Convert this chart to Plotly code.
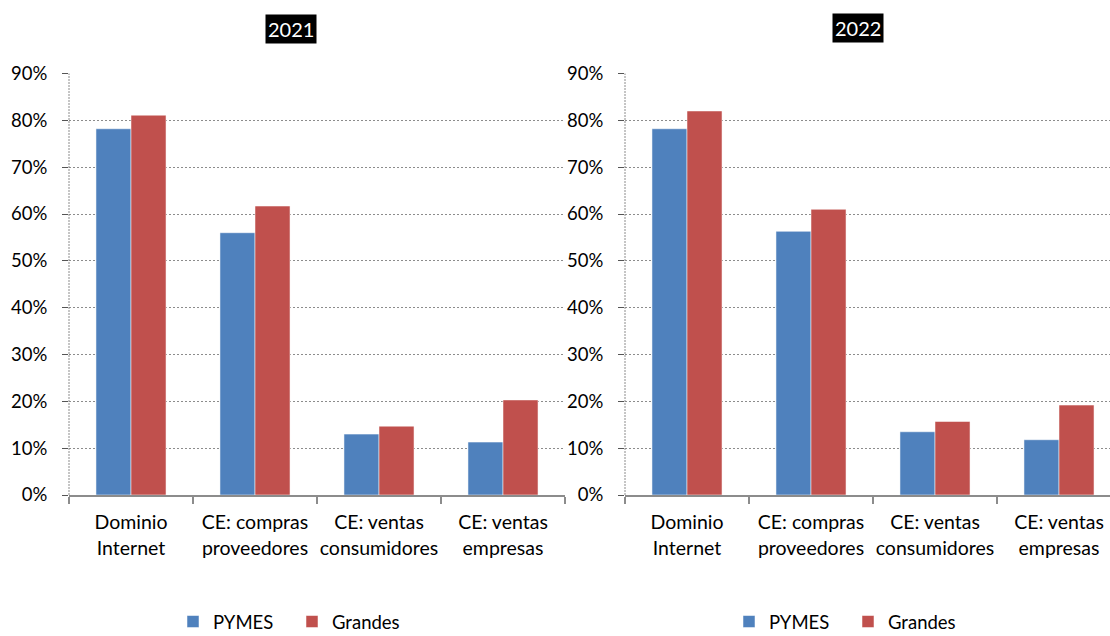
import plotly.graph_objects as go

categories = ["Dominio<br>Internet", "CE: compras<br>proveedores", "CE: ventas<br>consumidores", "CE: ventas<br>empresas"]
years = ["2021", "2022"]
pymes_2021 = [0.782, 0.560, 0.130, 0.113]
grandes_2021 = [0.811, 0.617, 0.147, 0.203]
pymes_2022 = [0.782, 0.563, 0.135, 0.118]
grandes_2022 = [0.820, 0.610, 0.157, 0.192]

BLUE = "#4F81BD"
RED = "#C0504D"
GRID = "#8c8c8c"
FONT = "Lato, Carlito, 'Noto Sans', sans-serif"
W, H = 1110, 636


def px_x(sx):
    return sx / W


def px_y(sy):
    return (H - sy) / H


fig = go.Figure()
series = [
    (pymes_2021, grandes_2021, "x", "y", "legend"),
    (pymes_2022, grandes_2022, "x2", "y2", "legend2"),
]
bar_line = dict(color="rgba(255,255,255,0.5)", width=1)
for p, g, xa, ya, lg in series:
    fig.add_trace(go.Bar(x=categories, y=p, name="PYMES", marker=dict(color=BLUE, line=bar_line),
                         xaxis=xa, yaxis=ya, legend=lg))
    fig.add_trace(go.Bar(x=categories, y=g, name="Grandes", marker=dict(color=RED, line=bar_line),
                         xaxis=xa, yaxis=ya, legend=lg))

ydom = [px_y(495), px_y(73.5)]
cat_px = 124.0
left_dom = [px_x(69), px_x(69 + 4 * cat_px)]
right_dom = [px_x(625), 1.0]
right_span = (W - 625) / cat_px

common_x = dict(type="category", showline=True, linecolor="#8c8c8c", linewidth=2, ticks="outside",
                tickson="boundaries", ticklen=7, tickwidth=2, tickcolor="#8c8c8c", showgrid=False,
                tickfont=dict(family=FONT, size=19.5, color="#000"), automargin=False,
                ticklabelstandoff=9, tickangle=0)
common_y = dict(range=[0, 0.9], dtick=0.1, tickformat=".0%", showgrid=True, gridcolor=GRID,
                griddash="2px,2px", gridwidth=1, showline=False,
                ticks="outside", ticklen=6, tickcolor="#555", tickwidth=1, zeroline=False,
                tickfont=dict(family=FONT, size=18.5, color="#000"), automargin=False,
                ticklabelstandoff=11)

legend_common = dict(orientation="h", xanchor="left", yanchor="top",
                     font=dict(family=FONT, size=18.5, color="#000"), entrywidth=74,
                     entrywidthmode="pixels", itemwidth=30, bgcolor="rgba(0,0,0,0)")

fig.update_layout(
    width=W, height=H,
    margin=dict(l=0, r=0, t=0, b=0, pad=0, autoexpand=False),
    paper_bgcolor="white", plot_bgcolor="white",
    barmode="group", bargap=0.435, bargroupgap=0,
    font=dict(family=FONT, size=18, color="#000"),
    xaxis=dict(domain=left_dom, anchor="y", range=[-0.5, 3.5], **common_x),
    yaxis=dict(domain=ydom, anchor="x", **common_y),
    xaxis2=dict(domain=right_dom, anchor="y2", range=[-0.5, -0.5 + right_span], **common_x),
    yaxis2=dict(domain=ydom, anchor="x2", **common_y),
    legend=dict(x=px_x(173), y=px_y(603), **legend_common),
    legend2=dict(x=px_x(729), y=px_y(603), **legend_common),
    annotations=[
        dict(text=years[0], x=px_x(291), y=px_y(29), xref="paper", yref="paper", showarrow=False,
             xanchor="center", yanchor="middle",
             font=dict(family=FONT, size=20, color="white"), bgcolor="black", borderpad=2),
        dict(text=years[1], x=px_x(858), y=px_y(28.5), xref="paper", yref="paper", showarrow=False,
             xanchor="center", yanchor="middle",
             font=dict(family=FONT, size=20, color="white"), bgcolor="black", borderpad=2),
    ],
    shapes=[
        dict(type="line", xref="x domain", yref="y domain", x0=0, x1=0, y0=0, y1=1,
             line=dict(color=GRID, width=1, dash="2px,1px"), layer="above"),
        dict(type="line", xref="x2 domain", yref="y2 domain", x0=0, x1=0, y0=0, y1=1,
             line=dict(color=GRID, width=1, dash="2px,1px"), layer="above"),
    ],
)

# remove the default page margin so the 1110x636 figure fills the window exactly
fig.write_html(
    "out.html",
    config={"displayModeBar": False},
    post_script="document.body.style.margin='0';document.documentElement.style.overflow='hidden';document.body.style.overflow='hidden';",
)
